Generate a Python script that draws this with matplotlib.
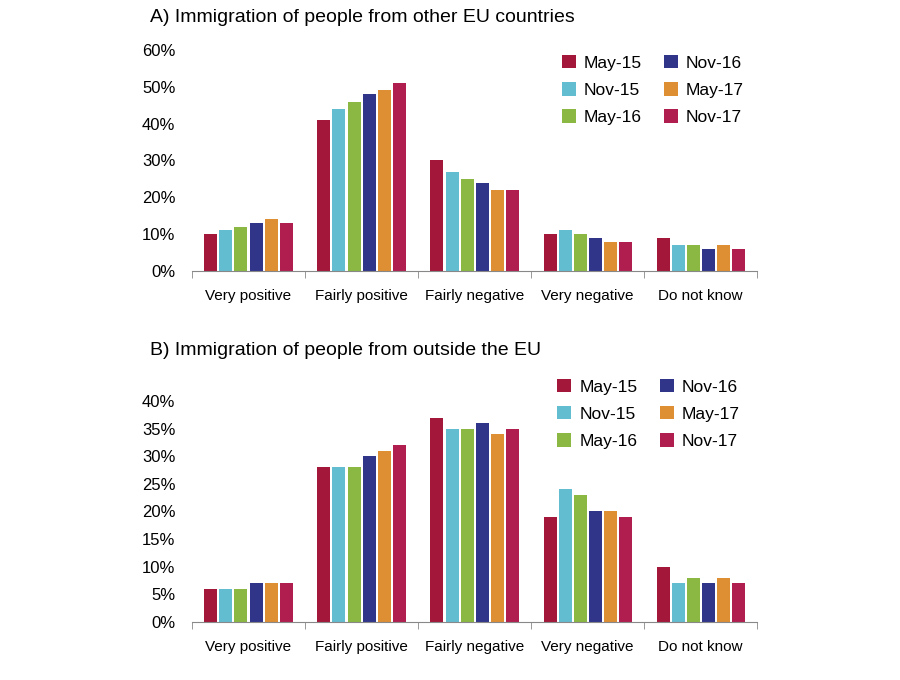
import matplotlib.pyplot as plt
import numpy as np

categories = ['Very positive', 'Fairly positive', 'Fairly negative', 'Very negative', 'Do not know']
series = ['May-15', 'Nov-15', 'May-16', 'Nov-16', 'May-17', 'Nov-17']
colors = ['#a3173a', '#62bdd0', '#8ab842', '#30358a', '#de8e33', '#b01e50']

# A) people from other EU countries, % per wave
eu_may15 = [10, 41, 30, 10, 9]
eu_nov15 = [11, 44, 27, 11, 7]
eu_may16 = [12, 46, 25, 10, 7]
eu_nov16 = [13, 48, 24, 9, 6]
eu_may17 = [14, 49, 22, 8, 7]
eu_nov17 = [13, 51, 22, 8, 6]

# B) people from outside the EU
nonEU_may15 = [6, 28, 37, 19, 10]
nonEU_nov15 = [6, 28, 35, 24, 7]
nonEU_may16 = [6, 28, 35, 23, 8]
nonEU_nov16 = [7, 30, 36, 20, 7]
nonEU_may17 = [7, 31, 34, 20, 8]
nonEU_nov17 = [7, 32, 35, 19, 7]

plt.rcParams['font.family'] = ['Liberation Sans', 'DejaVu Sans']

fig = plt.figure(figsize=(9, 6.8), dpi=100)
axA = fig.add_axes([0.2133, 0.6015, 0.628, 0.325])
axB = fig.add_axes([0.2133, 0.0853, 0.628, 0.325])


def draw_panel(ax, data, ymax, ystep, title, title_y, leg_anchor):
    x = np.arange(len(categories))
    step = 0.133
    width = 0.115
    for i, (vals, c, lab) in enumerate(zip(data, colors, series)):
        ax.bar(x + (i - 2.5) * step, vals, width, color=c, label=lab)
    ax.set_xlim(-0.5, len(categories) - 0.5)
    ax.set_ylim(0, ymax)
    ax.set_yticks(np.arange(0, ymax + 1, ystep))
    ax.set_yticklabels([f'{v}%' for v in np.arange(0, ymax + 1, ystep)], fontsize=12)
    ax.set_xticks(x)
    ax.set_xticklabels(categories, fontsize=11)
    ax.set_xticks(np.arange(-0.5, len(categories)), minor=True)
    ax.tick_params(axis='x', which='major', length=0, pad=13)
    ax.tick_params(axis='x', which='minor', length=5, color='#888888')
    ax.tick_params(axis='y', length=0, pad=12)
    for s in ['top', 'right', 'left']:
        ax.spines[s].set_visible(False)
    ax.spines['bottom'].set_color('#888888')
    ax.set_facecolor('none')
    fig.text(0.167, title_y, title, fontsize=14, va='center')
    ax.legend(ncol=2, loc='upper left', bbox_to_anchor=leg_anchor, frameon=False,
              fontsize=12.5, handlelength=0.8, handleheight=0.8, columnspacing=1.3,
              labelspacing=0.66, handletextpad=0.45)


draw_panel(axA, [eu_may15, eu_nov15, eu_may16, eu_nov16, eu_may17, eu_nov17],
           60, 10, 'A) Immigration of people from other EU countries', 0.975, (0.627, 1.047))
draw_panel(axB, [nonEU_may15, nonEU_nov15, nonEU_may16, nonEU_nov16, nonEU_may17, nonEU_nov17],
           40, 5, 'B) Immigration of people from outside the EU', 0.485, (0.619, 1.17))

fig.savefig('out.png', dpi=100)
